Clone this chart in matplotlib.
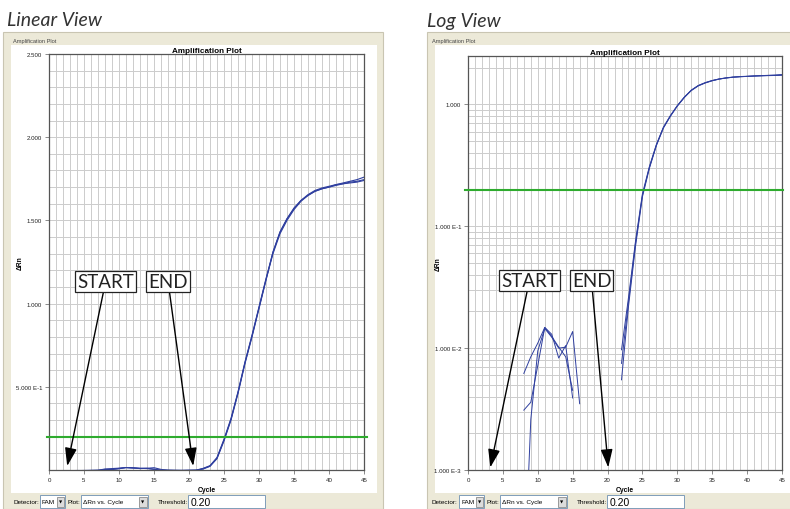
import numpy as np
import matplotlib.pyplot as plt
from matplotlib.patches import Rectangle
from matplotlib.ticker import MultipleLocator, FixedLocator, LogLocator, NullFormatter

W, H = 790, 510

# delta Rn per cycle, three replicate wells
cycles = np.arange(1, 46)
rep1 = [-0.006, -0.005, -0.004, -0.004, -0.003, -0.003, -0.002,
        0.0062, 0.0085, 0.011, 0.0148, 0.0130, 0.0083, 0.0105, 0.0039,
        -0.001, -0.002, -0.003, -0.003, -0.002, -0.001,
        0.0055, 0.022, 0.068, 0.175, 0.30, 0.46, 0.64, 0.80, 0.97, 1.14,
        1.31, 1.43, 1.51, 1.57, 1.62, 1.65, 1.675, 1.69, 1.70, 1.71,
        1.72, 1.73, 1.735, 1.745]
rep2 = [-0.005, -0.005, -0.004, -0.003, -0.003, -0.002, -0.002,
        0.0031, 0.0036, 0.0072, 0.0148, 0.0125, 0.0102, 0.0085, 0.0045,
        -0.001, -0.002, -0.002, -0.003, -0.002, -0.001,
        0.0097, 0.026, 0.075, 0.185, 0.31, 0.47, 0.65, 0.81, 0.98, 1.15,
        1.31, 1.43, 1.51, 1.575, 1.62, 1.655, 1.68, 1.695, 1.705, 1.715,
        1.72, 1.725, 1.73, 1.74]
rep3 = [-0.007, -0.006, -0.005, -0.004, -0.004, -0.003, -0.002,
        0.0001, 0.0026, 0.0095, 0.0145, 0.0123, 0.0100, 0.0102, 0.0137,
        0.0035, -0.001, -0.002, -0.002, -0.002, -0.002,
        0.0075, 0.024, 0.072, 0.18, 0.305, 0.465, 0.645, 0.805, 0.975, 1.145,
        1.30, 1.42, 1.50, 1.565, 1.615, 1.65, 1.675, 1.69, 1.70, 1.715,
        1.725, 1.735, 1.745, 1.76]
threshold = 0.20

lin_ticks = [0.5, 1.0, 1.5, 2.0, 2.5]
lin_labels = ['5.000 E-1', '1.000', '1.500', '2.000', '2.500']
log_ticks = [1e-3, 1e-2, 1e-1, 1]
log_labels = ['1.000 E-3', '1.000 E-2', '1.000 E-1', '1.000']
x_ticks = list(range(0, 46, 5))

UI = 'Liberation Sans'
BEIGE = '#ece9d8'
BLUE = '#2f3f9f'
GRID = '#cccccc'

fig = plt.figure(figsize=(W / 100, H / 100), dpi=100)
fig.patch.set_facecolor('white')


def rect(x0, y0, x1, y1, fc, ec='none', lw=0.7, z=-5):
    fig.add_artist(Rectangle((x0 / W, 1 - y1 / H), (x1 - x0) / W, (y1 - y0) / H,
                             transform=fig.transFigure, fc=fc, ec=ec, lw=lw, zorder=z))


def label(x, y, s, **kw):
    kw.setdefault('family', UI)
    kw.setdefault('va', 'center')
    fig.text(x / W, 1 - y / H, s, **kw)


def window(x0, x1, dx, right_edge=True):
    rect(x0, 33, x1, 510, BEIGE, ec='#c9c5b2', lw=0.8)
    rect(x0 + 8, 46, x1 - 6 if right_edge else x1 + 5, 494, 'white')
    label(13 + dx, 41, 'Amplification Plot', fontsize=4.1, color='#444444')
    # control bar
    label(13 + dx, 503, 'Detector:', fontsize=4.6)
    rect(40 + dx, 496, 65 + dx, 509, 'white', ec='#7f9db9', z=-4)
    label(42 + dx, 503, 'FAM', fontsize=4.6)
    rect(57 + dx, 497.5, 64 + dx, 508, '#dcdcdc', ec='#999999', z=-3)
    label(60.5 + dx, 503, '\u25bc', fontsize=3, ha='center', family='DejaVu Sans')
    label(68 + dx, 503, 'Plot:', fontsize=4.6)
    rect(81 + dx, 496, 148 + dx, 509, 'white', ec='#7f9db9', z=-4)
    label(83 + dx, 503, '\u0394Rn vs. Cycle', fontsize=4.6)
    rect(139 + dx, 497.5, 147 + dx, 508, '#dcdcdc', ec='#999999', z=-3)
    label(143 + dx, 503, '\u25bc', fontsize=3, ha='center', family='DejaVu Sans')
    label(158 + dx, 503, 'Threshold:', fontsize=4.6)
    rect(188 + dx, 496, 265 + dx, 509, 'white', ec='#7f9db9', z=-4)
    label(191 + dx, 503, '0.20', fontsize=7.5)


window(3, 383, 0)
window(427, 800, 419, right_edge=False)

label(7, 21, 'Linear View', family='Lato', style='italic', fontsize=14, color='#333333')
label(427, 21, 'Log View', family='Lato', style='italic', fontsize=14, color='#333333')


def make_axes(x0, y0, x1, y1):
    ax = fig.add_axes([x0 / W, 1 - y1 / H, (x1 - x0) / W, (y1 - y0) / H])
    ax.set_xlim(0, 45)
    ax.xaxis.set_major_locator(FixedLocator(x_ticks))
    ax.xaxis.set_minor_locator(MultipleLocator(1))
    ax.grid(True, which='both', color=GRID, lw=0.7)
    ax.set_axisbelow(True)
    for s in ax.spines.values():
        s.set_color('#555555')
        s.set_linewidth(0.9)
    ax.tick_params(which='major', length=3, width=0.6, color='#777777',
                   labelsize=4.4, pad=2, labelcolor='#222222')
    ax.tick_params(which='minor', length=0)
    ax.set_xlabel('Cycle', family=UI, fontsize=4.9, fontweight='bold', labelpad=3)
    ax.set_title('Amplification Plot', family=UI, fontsize=5.9, fontweight='bold', pad=1)
    return ax


# ---- linear view
ax1 = make_axes(49, 55, 364, 471)
for r in (rep1, rep2, rep3):
    ax1.plot(cycles, r, color=BLUE, lw=0.8)
ax1.set_ylim(0, 2.5)
ax1.yaxis.set_major_locator(FixedLocator(lin_ticks))
ax1.set_yticklabels(lin_labels, family=UI)
ax1.yaxis.set_minor_locator(MultipleLocator(0.1))
ax1.set_xticklabels([str(t) for t in x_ticks], family=UI)
ax1.axhline(threshold, xmin=-0.007, xmax=1.01, color='#2eab2e', lw=1.5, clip_on=False, zorder=3)
ax1.set_ylabel('\u0394Rn', family=UI, fontsize=4.8, fontweight='bold')
ax1.yaxis.set_label_coords(-0.08, 0.5)

# ---- log view
ax2 = make_axes(468, 57, 782, 471)
ax2.set_yscale('log', nonpositive='mask')
for r in (rep1, rep2, rep3):
    ax2.plot(cycles, r, color=BLUE, lw=0.7)
ax2.set_ylim(1e-3, 2.5)
ax2.yaxis.set_major_locator(FixedLocator(log_ticks))
ax2.set_yticklabels(log_labels, family=UI)
ax2.yaxis.set_minor_locator(LogLocator(base=10, subs=np.arange(2, 10)))
ax2.yaxis.set_minor_formatter(NullFormatter())
ax2.set_xticklabels([str(t) for t in x_ticks], family=UI)
ax2.axhline(threshold, xmin=-0.01, xmax=1.003, color='#2eab2e', lw=1.5, clip_on=False, zorder=3)
ax2.set_ylabel('\u0394Rn', family=UI, fontsize=4.8, fontweight='bold')
ax2.yaxis.set_label_coords(-0.085, 0.5)

# ---- START / END call-outs
arrow = dict(arrowstyle='-|>,head_length=1.0,head_width=0.33', mutation_scale=11,
             color='black', lw=1.0, shrinkA=0, shrinkB=0)
box = dict(boxstyle='square,pad=0.1', fc='white', ec='#222222', lw=0.9)
callouts = [
    (ax1, 'START', (8.1, 1.135), (2.6, 0.024)),
    (ax1, 'END', (17.0, 1.135), (20.6, 0.024)),
    (ax2, 'START', (8.8, 0.036), (3.2, 0.00105)),
    (ax2, 'END', (17.7, 0.036), (20.1, 0.00105)),
]
for ax, txt, pos, tip in callouts:
    ax.annotate(txt, xy=tip, xytext=pos, ha='center', va='center', family='Lato',
                fontsize=13.5, color='#222222', bbox=box, arrowprops=arrow,
                annotation_clip=False, zorder=5)

fig.savefig('out.png', dpi=100)
